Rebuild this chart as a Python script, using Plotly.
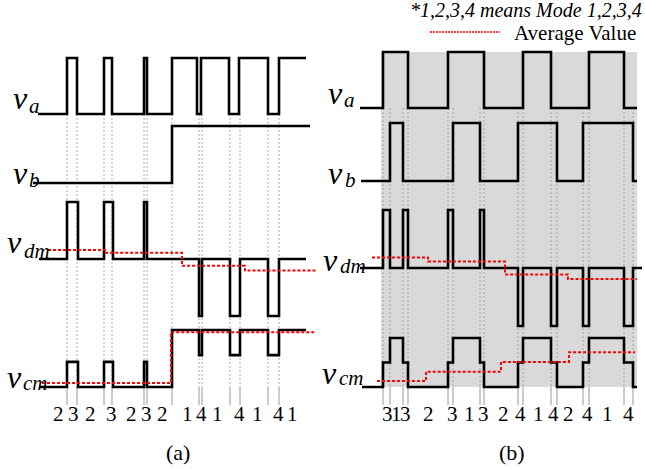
import plotly.graph_objects as go

# ---------------- data ----------------
# Panel (a): transition times and levels (1 = high, 0 = base, -1 = low)
A_VA_T = [38, 67, 77, 104, 112, 144, 147, 172, 197, 201, 229, 239, 268, 279, 306]
A_VA_L = [0, 1, 0, 1, 0, 1, 0, 1, 0, 1, 0, 1, 0, 1]
A_VB_T = [33, 172, 310]
A_VB_L = [0, 1]
A_VDM_T = [39, 67, 78, 104, 113, 144, 147, 199, 202, 230, 240, 268, 279, 306]
A_VDM_L = [0, 1, 0, 1, 0, 1, 0, -1, 0, -1, 0, -1, 0]
A_VCM_T = [39, 67, 78, 104, 113, 144, 147, 172, 199, 202, 230, 240, 268, 279, 306]
A_VCM_L = [0, 0.44, 0, 0.44, 0, 0.44, 0, 1, 0.56, 1, 0.56, 1, 0.56, 1]
A_VDM_AVG_T = [48, 105, 182, 245, 317]
A_VDM_AVG_L = [0.16, 0.11, -0.12, -0.2]
A_VCM_AVG_T = [42, 171, 315]
A_VCM_AVG_L = [0.07, 0.96]
A_GUIDES = [67, 77, 104, 112, 144, 147, 172, 199, 202, 230, 240, 268, 279]
A_MODES = ["2", "3", "2", "3", "2", "3", "2", "1", "4", "1", "4", "1", "4", "1"]
A_MODE_T = [58, 73, 90, 111, 131, 146, 162, 187, 201, 217, 239, 257, 278, 292]

# Panel (b)
B_VA_T = [360, 383, 408, 448, 484, 523, 551, 589, 624, 637]
B_VA_L = [0, 1, 0, 1, 0, 1, 0, 1, 0]
B_VB_T = [361, 390, 403, 453, 480, 518, 557, 583, 633, 637]
B_VB_L = [0, 1, 0, 1, 0, 1, 0, 1, 0]
B_VDM_T = [360, 383, 390, 403, 408, 448, 453, 480, 484, 518, 523, 551, 557, 583, 589, 624, 633, 642]
B_VDM_L = [0, 1, 0, 1, 0, 1, 0, 1, 0, -1, 0, -1, 0, -1, 0, -1, 0]
B_VCM_T = [362, 383, 390, 403, 408, 448, 453, 480, 484, 518, 523, 551, 557, 583, 589, 624, 633, 637]
B_VCM_L = [0, 0.5, 1, 0.5, 0, 0.5, 1, 0.5, 0, 0.5, 1, 0.5, 0, 0.5, 1, 0.5, 0]
B_VDM_AVG_T = [372, 428, 505, 568, 637]
B_VDM_AVG_L = [0.18, 0.11, -0.11, -0.19]
B_VCM_AVG_T = [377, 426, 501, 569, 635]
B_VCM_AVG_L = [0.12, 0.31, 0.51, 0.71]
B_GUIDES = [383, 390, 403, 408, 448, 453, 480, 484, 518, 523, 551, 557, 583, 589, 624, 633]
B_MODES = ["3", "1", "3", "2", "3", "1", "3", "2", "4", "1", "4", "2", "4", "1", "4"]
B_MODE_T = [387, 396, 405, 428, 452, 469, 483, 503, 520, 538, 553, 568, 587, 607, 628]

SIGNAL_NAMES = ["a", "b", "dm", "cm"]
NOTE_TEXT = "*1,2,3,4 means Mode 1,2,3,4"
AVG_TEXT = "Average Value"

# ---------------- row placement (baseline, amplitude) ----------------
ROWS_A = {"a": (114, 56), "b": (183, 57), "dm": (259, 57), "cm": (387, 57)}
ROWS_B = {"a": (108, 56), "b": (181, 58), "dm": (268, 58), "cm": (387, 49)}
# label placement: (v centre x, v y, subscript left x, subscript y)
LABELS_A = {"a": (20, 98, 27, 106), "b": (20, 173, 27, 180),
            "dm": (14, 242, 22, 251), "cm": (14, 377, 21, 383)}
LABELS_B = {"a": (335, 93, 342, 100), "b": (335, 173, 343, 180),
            "dm": (330, 260, 338, 266), "cm": (329, 373, 337, 378)}
FONT = "Liberation Serif, Times New Roman, Times, serif"

fig = go.Figure()


def wave(T, L, row, color="black", width=2.6, dash="solid"):
    base, amp = row
    ys = [base - amp * v for v in L] + [base - amp * L[-1]]
    fig.add_trace(go.Scatter(x=T, y=ys, mode="lines", line_shape="hv",
                             line=dict(color=color, width=width, dash=dash),
                             hoverinfo="skip", showlegend=False))


def guides(G, top, bottom, tick_end):
    xs, ys, xs2, ys2 = [], [], [], []
    for g in G:
        xs += [g, g, None]
        ys += [top, bottom, None]
        xs2 += [g, g, None]
        ys2 += [bottom, tick_end, None]
    fig.add_trace(go.Scatter(x=xs, y=ys, mode="lines",
                             line=dict(color="#999999", width=0.8, dash="2px,2px"),
                             hoverinfo="skip", showlegend=False))
    fig.add_trace(go.Scatter(x=xs2, y=ys2, mode="lines",
                             line=dict(color="#a8a8a8", width=1.2),
                             hoverinfo="skip", showlegend=False))


# gray background of panel (b)
fig.add_shape(type="rect", x0=381, x1=637, y0=52, y1=387,
              fillcolor="#d9d9d9", line=dict(width=0), layer="below")

guides(A_GUIDES, ROWS_A["a"][0], ROWS_A["cm"][0], 405)
guides(B_GUIDES, ROWS_B["a"][0], ROWS_B["cm"][0], 405)

red = dict(color="#ff0000", width=2, dash="3px,2px")
for T, L, r in [(A_VA_T, A_VA_L, "a"), (A_VB_T, A_VB_L, "b"),
                (A_VDM_T, A_VDM_L, "dm"), (A_VCM_T, A_VCM_L, "cm")]:
    wave(T, L, ROWS_A[r])
for T, L, r in [(B_VA_T, B_VA_L, "a"), (B_VB_T, B_VB_L, "b"),
                (B_VDM_T, B_VDM_L, "dm"), (B_VCM_T, B_VCM_L, "cm")]:
    wave(T, L, ROWS_B[r])
wave(A_VDM_AVG_T, A_VDM_AVG_L, ROWS_A["dm"], **red)
wave(A_VCM_AVG_T, A_VCM_AVG_L, ROWS_A["cm"], **red)
wave(B_VDM_AVG_T, B_VDM_AVG_L, ROWS_B["dm"], **red)
wave(B_VCM_AVG_T, B_VCM_AVG_L, ROWS_B["cm"], **red)

# signal labels: italic v with italic subscript
for name in SIGNAL_NAMES:
    for labels in (LABELS_A, LABELS_B):
        vx, vy, sx, sy = labels[name]
        fig.add_annotation(x=vx, y=vy, text="<i>v</i>", showarrow=False,
                           xanchor="center", yanchor="middle",
                           font=dict(family=FONT, size=32, color="black"))
        fig.add_annotation(x=sx, y=sy, text=f"<i>{name}</i>", showarrow=False,
                           xanchor="left", yanchor="middle",
                           font=dict(family=FONT, size=21, color="black"))

# mode labels
for m, t in list(zip(A_MODES, A_MODE_T)) + list(zip(B_MODES, B_MODE_T)):
    fig.add_annotation(x=t, y=414, text=m, showarrow=False,
                       xanchor="center", yanchor="middle",
                       font=dict(family=FONT, size=21, color="black"))

for txt, xc in [("(a)", 178), ("(b)", 512)]:
    fig.add_annotation(x=xc, y=452, text=txt, showarrow=False,
                       xanchor="center", yanchor="middle",
                       font=dict(family=FONT, size=22, color="black"))

# legend-like note
fig.add_annotation(x=644, y=10, text=f"<i>{NOTE_TEXT}</i>", showarrow=False,
                   xanchor="right", yanchor="middle",
                   font=dict(family=FONT, size=20, color="black"))
fig.add_annotation(x=638, y=33, text=AVG_TEXT, showarrow=False,
                   xanchor="right", yanchor="middle",
                   font=dict(family=FONT, size=21, color="black"))
fig.add_trace(go.Scatter(x=[430, 500], y=[32, 32], mode="lines",
                         line=dict(color="#ff0000", width=1.5, dash="2px,1px"),
                         hoverinfo="skip", showlegend=False))

fig.update_layout(width=645, height=469, margin=dict(l=0, r=0, t=0, b=0),
                  plot_bgcolor="white", paper_bgcolor="white",
                  xaxis=dict(range=[0, 645], visible=False, fixedrange=True),
                  yaxis=dict(range=[469, 0], visible=False, fixedrange=True))
fig.write_html("out.html")
